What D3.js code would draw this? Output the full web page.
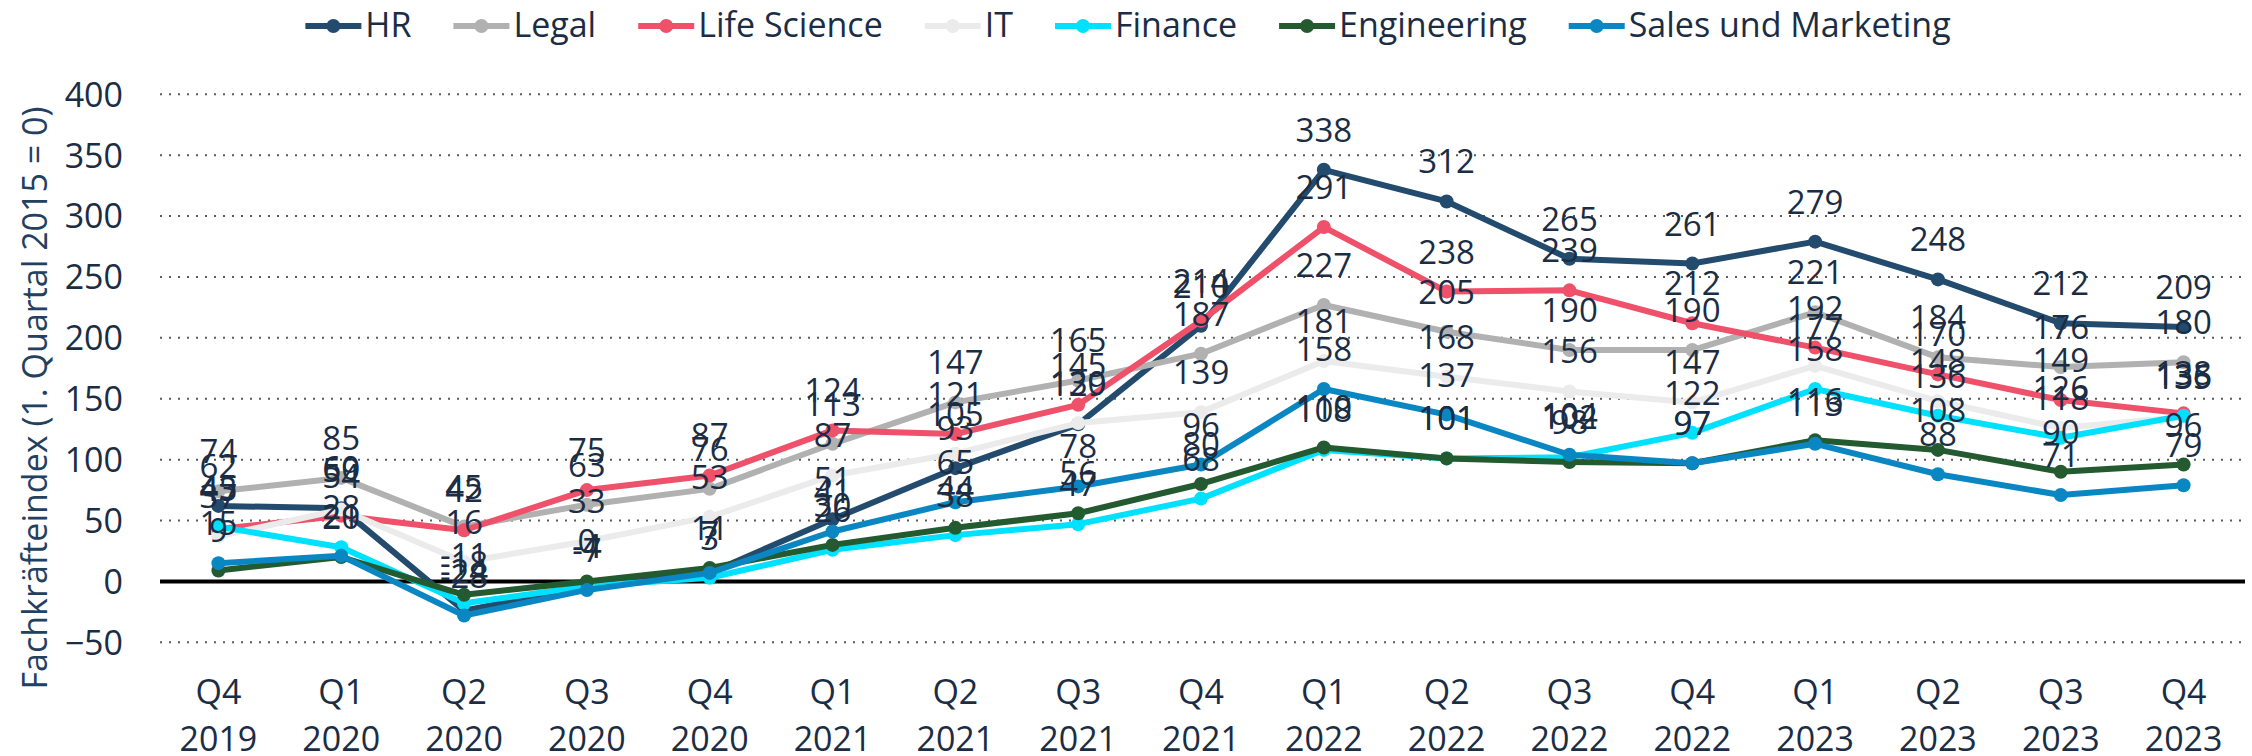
<!DOCTYPE html>
<html>
<head>
<meta charset="utf-8">
<script src="https://d3js.org/d3.v7.min.js"></script>
<style>
  body { margin: 0; background: #fff; }
  text { font-family: "Open Sans", sans-serif; }
</style>
</head>
<body>
<div id="chart"></div>
<script>
// categories (two-line tick labels)
var quarters = ["Q4", "Q1", "Q2", "Q3", "Q4", "Q1", "Q2", "Q3", "Q4", "Q1", "Q2", "Q3", "Q4", "Q1", "Q2", "Q3", "Q4"];
var years = ["2019", "2020", "2020", "2020", "2020", "2021", "2021", "2021", "2021", "2022", "2022", "2022", "2022", "2023", "2023", "2023", "2023"];

// series values
var hr = [62, 60, -24, -4, 7, 51, 93, 129, 210, 338, 312, 265, 261, 279, 248, 212, 209];
var legal = [74, 85, 45, 63, 76, 113, 147, 165, 187, 227, 205, 190, 190, 221, 184, 176, 180];
var lifeScience = [43, 54, 42, 75, 87, 124, 121, 145, 214, 291, 238, 239, 212, 192, 170, 149, 138];
var it = [37, 59, 16, 33, 53, 87, 105, 130, 139, 181, 168, 156, 147, 177, 148, 126, 135];
var finance = [45, 28, -18, -4, 3, 26, 38, 47, 68, 108, 101, 102, 122, 158, 136, 118, 136];
var engineering = [9, 20, -11, 0, 11, 30, 44, 56, 80, 110, 101, 98, 97, 116, 108, 90, 96];
var sales = [15, 21, -28, -7, 7, 41, 65, 78, 96, 158, 137, 104, 97, 113, 88, 71, 79];

var seriesNames = ["HR", "Legal", "Life Science", "IT", "Finance", "Engineering", "Sales und Marketing"];
var seriesColors = ["#234b6e", "#b1b1b1", "#ef506a", "#ebebeb", "#00e0ff", "#235a2f", "#0a87c3"];
var yTicks = [-50, 0, 50, 100, 150, 200, 250, 300, 350, 400];

var series = [hr, legal, lifeScience, it, finance, engineering, sales].map(function(values, i) {
    return { name: seriesNames[i], color: seriesColors[i], values: values };
});

var svgWidth = 2252;
var svgHeight = 756;
var textColor = "#1b2d44";

var svg = d3.select("#chart")
    .append("svg")
    .attr("width", svgWidth)
    .attr("height", svgHeight);

// scales
var xScale = d3.scalePoint()
    .domain(d3.range(quarters.length))
    .range([157, 2245])
    .padding(0.5);

var yScale = d3.scaleLinear()
    .domain([-50, 400])
    .range([642.3, 94.3]);

// dotted gridlines
svg.append("g")
    .selectAll("line")
    .data(yTicks.filter(d => d !== 0))
    .enter()
    .append("line")
    .attr("x1", 160)
    .attr("x2", 2245)
    .attr("y1", d => yScale(d))
    .attr("y2", d => yScale(d))
    .attr("stroke", "#5a5a5a")
    .attr("stroke-width", 2)
    .attr("stroke-dasharray", "2,7");

// y axis labels
var leftAxis = d3.axisLeft(yScale)
    .tickValues(yTicks)
    .tickSize(0)
    .tickPadding(0);

var yAxis = svg.append("g")
    .attr("transform", "translate(123,0)")
    .call(leftAxis);

yAxis.select(".domain").remove();
yAxis.selectAll("text")
    .attr("font-family", "Open Sans")
    .attr("font-size", 34)
    .attr("fill", textColor)
    .attr("dy", "0.35em");

// zero line
svg.append("line")
    .attr("x1", 160)
    .attr("x2", 2245)
    .attr("y1", yScale(0))
    .attr("y2", yScale(0))
    .attr("stroke", "#000")
    .attr("stroke-width", 4);

// x axis labels, quarter on top and year below
var xLabels = svg.append("g")
    .selectAll("text")
    .data(quarters)
    .enter()
    .append("text")
    .attr("x", (d, i) => xScale(i))
    .attr("y", 704)
    .attr("text-anchor", "middle")
    .attr("font-size", 34)
    .attr("fill", textColor);

xLabels.append("tspan")
    .attr("x", (d, i) => xScale(i))
    .text(d => d);

xLabels.append("tspan")
    .attr("x", (d, i) => xScale(i))
    .attr("dy", 47)
    .text((d, i) => years[i]);

// y axis title
svg.append("text")
    .attr("transform", "translate(47,398) rotate(-90)")
    .attr("text-anchor", "middle")
    .attr("font-size", 34)
    .attr("fill", "#23405f")
    .text("Fachkräfteindex (1. Quartal 2015 = 0)");

// lines and markers
var line = d3.line()
    .x((d, i) => xScale(i))
    .y(d => yScale(d));

var seriesGroups = svg.append("g")
    .selectAll("g")
    .data(series)
    .enter()
    .append("g");

seriesGroups.append("path")
    .attr("d", d => line(d.values))
    .attr("fill", "none")
    .attr("stroke", d => d.color)
    .attr("stroke-width", 6)
    .attr("stroke-linejoin", "round");

seriesGroups.selectAll("circle")
    .data(d => d.values.map(v => ({ v: v, color: d.color })))
    .enter()
    .append("circle")
    .attr("cx", (d, i) => xScale(i))
    .attr("cy", d => yScale(d.v))
    .attr("r", 7)
    .attr("fill", d => d.color);

// data labels above every point
svg.append("g")
    .selectAll("g")
    .data(series)
    .enter()
    .append("g")
    .selectAll("text")
    .data(d => d.values)
    .enter()
    .append("text")
    .attr("x", (d, i) => xScale(i))
    .attr("y", d => yScale(d) - 28)
    .attr("text-anchor", "middle")
    .attr("font-size", 33)
    .attr("fill", textColor)
    .text(d => d);

// legend, centred on the page
var legend = svg.append("g");
var legendItems = legend.selectAll("g")
    .data(series)
    .enter()
    .append("g");

legendItems.append("line")
    .attr("x1", 0)
    .attr("x2", 56)
    .attr("y1", 26)
    .attr("y2", 26)
    .attr("stroke", d => d.color)
    .attr("stroke-width", 6);

legendItems.append("circle")
    .attr("cx", 28)
    .attr("cy", 26)
    .attr("r", 7)
    .attr("fill", d => d.color);

legendItems.append("text")
    .attr("x", 60)
    .attr("y", 37)
    .attr("font-size", 34)
    .attr("fill", textColor)
    .text(d => d.name);

var offset = 0;
legendItems.each(function() {
    var item = d3.select(this);
    var w = 60 + item.select("text").node().getComputedTextLength();
    item.attr("transform", `translate(${offset},0)`);
    offset += w + 42;
});
var legendWidth = offset - 42;
legend.attr("transform", `translate(${1128 - legendWidth / 2},0)`);
</script>
</body>
</html>
